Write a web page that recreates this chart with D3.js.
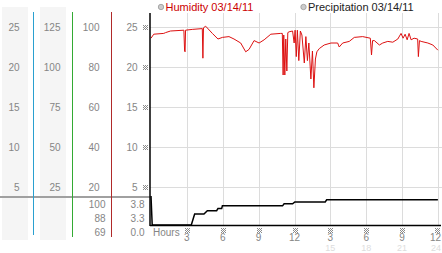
<!DOCTYPE html>
<html><head><meta charset="utf-8">
<script src="https://cdn.jsdelivr.net/npm/d3@7"></script>
<style>
html,body{margin:0;padding:0;background:#fff;}
text{font-family:"Liberation Sans",Arial,sans-serif;}
</style></head>
<body>
<svg id="c" width="442" height="253"></svg>
<script>
// ---- data ----
const yTicks = [5, 10, 15, 20, 25];
const col1Labels = ["5", "10", "15", "20", "25"];
const col2Labels = ["25", "50", "75", "100", "125"];
const col3Labels = ["20", "40", "60", "80", "100"];
const col4Labels = ["5", "10", "15", "20", "25"];
const summaryA = ["100", "88", "69"];
const summaryB = ["3.8", "3.3", "0.0"];
const hourTicks = [3, 6, 9, 12, 15, 18, 21, 24];
const hourLabels = ["3", "6", "9", "12", "3", "6", "9", "12"];
const hourLabels24 = ["", "", "", "", "15", "18", "21", "24"];
const seriesNames = ["Humidity 03/14/11", "Precipitation 03/14/11"];
const humHours = [0,0.23,1.07,1.22,1.63,2.75,2.81,2.85,2.89,3.45,4.29,4.34,4.39,4.57,5.13,5.6,5.97,6.52,6.94,7.5,7.92,8.2,8.62,9.04,9.46,10.02,10.85,10.98,11.05,11.1,11.19,11.27,11.36,11.44,11.55,11.84,11.97,12.05,12.15,12.24,12.36,12.49,12.62,12.82,12.95,13.08,13.2,13.37,13.5,13.62,13.75,13.87,14.07,14.48,15.05,15.61,15.74,16.03,16.58,17.0,17.7,18.34,18.44,18.53,18.68,19.1,19.38,19.8,20.22,20.64,20.91,21.08,21.25,21.42,21.58,21.75,22.0,22.3,22.36,22.45,22.59,23.15,23.57,23.99];
const humValues = [23.6,24.1,24.2,24.3,24.5,24.6,22.0,21.9,24.6,24.7,24.8,21.1,24.9,25.1,24.2,23.5,23.7,23.8,23.5,23.0,21.9,22.2,23.3,23.0,23.4,24.1,24.2,24.2,19.0,24.0,19.0,23.5,19.5,24.3,24.4,24.5,23.0,24.6,21.3,24.6,20.8,24.5,24.0,20.5,23.8,20.8,23.0,18.5,22.0,17.4,21.0,21.9,22.3,22.75,23.0,23.0,22.5,23.0,23.2,23.7,23.8,23.6,21.5,23.3,23.3,22.75,23.0,23.2,23.1,23.5,24.2,23.6,24.1,23.4,24.2,23.4,23.6,23.5,21.3,23.3,23.2,23.0,22.75,22.1];
const precHours = [0,0.05,0.1,3.37,3.65,4.43,4.71,5.49,5.6,5.91,5.97,11.0,11.13,11.84,12.03,14.57,14.69,23.99];
const precValues = [3.8,1.9,0,0,1.45,1.45,1.88,1.88,2.15,2.15,2.51,2.51,2.77,2.77,3.03,3.03,3.3,3.3];

// ---- drawing ----
const svg = d3.select("#c");
const x = d3.scaleLinear().domain([0, 24]).range([151, 438]);
const y = d3.scaleLinear().domain([0, 25]).range([227, 27]);
const yp = d3.scaleLinear().domain([0, 3.8]).range([225, 196]);
const rowBand = d3.scaleBand().domain(d3.range(3)).range([197, 239]);

// small checkered tick mark
const markCells = [];
for (let i = 0; i < 5; i++) for (let j = 0; j < 5; j++) if ((i + j) % 2 === 0) markCells.push([i, j]);
function mark(cx, cy) {
  const m = svg.append("g").attr("transform", `translate(${Math.round(cx) - 2},${Math.round(cy) - 2})`);
  m.selectAll("rect").data(markCells).join("rect")
    .attr("x", d => d[0]).attr("y", d => d[1]).attr("width", 1).attr("height", 1).attr("fill", "#8a8a8a");
}

// left column backgrounds
svg.append("rect").attr("x", 2).attr("y", 7).attr("width", 26).attr("height", 233).attr("fill", "#f5f5f5");
svg.append("rect").attr("x", 40).attr("y", 7).attr("width", 26).attr("height", 233).attr("fill", "#f5f5f5");

// grid
const g = svg.append("g");
g.selectAll("line.h").data(yTicks).join("line")
  .attr("x1", 150).attr("x2", 442).attr("y1", d => y(d) + 0.5).attr("y2", d => y(d) + 0.5)
  .attr("stroke", "#dcdcdc").attr("stroke-width", 1);
g.selectAll("line.v").data(hourTicks).join("line")
  .attr("x1", d => Math.round(x(d)) + 0.5).attr("x2", d => Math.round(x(d)) + 0.5)
  .attr("y1", 13).attr("y2", 225)
  .attr("stroke", "#dcdcdc").attr("stroke-width", 1);

// gray separator
svg.append("line").attr("x1", 0).attr("x2", 150).attr("y1", 197).attr("y2", 197)
  .attr("stroke", "#a0a0a0").attr("stroke-width", 2);

// coloured column lines
svg.append("line").attr("x1", 33.5).attr("x2", 33.5).attr("y1", 12).attr("y2", 235).attr("stroke", "#2aa0d0").attr("stroke-width", 1);
svg.append("line").attr("x1", 72.5).attr("x2", 72.5).attr("y1", 12).attr("y2", 237).attr("stroke", "#33aa33").attr("stroke-width", 1);
svg.append("line").attr("x1", 111.5).attr("x2", 111.5).attr("y1", 12).attr("y2", 237).attr("stroke", "#b02a2a").attr("stroke-width", 1);

// column labels
function col(labels, xr) {
  svg.append("g").selectAll("text").data(labels).join("text")
    .attr("x", xr).attr("y", (d, i) => y(yTicks[i]))
    .attr("dy", "0.35em").attr("text-anchor", "end")
    .attr("font-size", 10).attr("fill", "#858585").text(d => d);
}
col(col1Labels, 19.5);
col(col2Labels, 60.5);
col(col3Labels, 99.5);
col(col4Labels, 137.5);

// y tick marks
yTicks.forEach(t => mark(145, y(t)));

// summary rows
svg.append("g").selectAll("text").data(summaryA).join("text")
  .attr("x", 105.5).attr("y", (d, i) => rowBand(i) + rowBand.bandwidth() / 2 + 0.5)
  .attr("dy", "0.35em").attr("text-anchor", "end").attr("font-size", 10).attr("fill", "#858585").text(d => d);
svg.append("g").selectAll("text").data(summaryB).join("text")
  .attr("x", 144.5).attr("y", (d, i) => rowBand(i) + rowBand.bandwidth() / 2 + 0.5)
  .attr("dy", "0.35em").attr("text-anchor", "end").attr("font-size", 10).attr("fill", "#858585").text(d => d);

// humidity line
const hum = humHours.map((h, i) => [h, humValues[i]]);
svg.append("path").datum(hum)
  .attr("d", d3.line().x(d => x(d[0])).y(d => y(d[1])))
  .attr("fill", "none").attr("stroke", "#dd1111").attr("stroke-width", 1);

// precipitation line
const prec = precHours.map((h, i) => [h, precValues[i]]);
svg.append("path").datum(prec)
  .attr("d", d3.line().x(d => x(d[0])).y(d => yp(d[1])))
  .attr("fill", "none").attr("stroke", "#000").attr("stroke-width", 1.5);

// axes lines
svg.append("line").attr("x1", 150).attr("x2", 150).attr("y1", 13).attr("y2", 226).attr("stroke", "#000").attr("stroke-width", 1.5);
svg.append("line").attr("x1", 150).attr("x2", 441).attr("y1", 225.5).attr("y2", 225.5).attr("stroke", "#000").attr("stroke-width", 1.5);

// x labels
svg.append("text").attr("x", 153).attr("y", 232).attr("dy", "0.35em").attr("font-size", 10).attr("fill", "#858585").text("Hours");
const last = hourTicks.length - 1;
hourTicks.forEach(t => mark(t === 24 ? 437 : x(t), 230));
svg.append("g").selectAll("text").data(hourLabels).join("text")
  .attr("x", (d, i) => i === last ? 441 : x(hourTicks[i])).attr("y", 237.5).attr("dy", "0.35em")
  .attr("text-anchor", (d, i) => i === last ? "end" : "middle")
  .attr("font-size", 10).attr("fill", "#858585").text(d => d);
svg.append("g").selectAll("text").data(hourLabels24).join("text")
  .attr("x", (d, i) => i === last ? 441 : x(hourTicks[i])).attr("y", 247.5).attr("dy", "0.35em")
  .attr("text-anchor", (d, i) => i === last ? "end" : "middle")
  .attr("font-size", 9).attr("fill", "#dddddd").text(d => d);

// legend
const legX = [161, 303.5];
const legColor = ["#cc0000", "#222"];
seriesNames.forEach((n, i) => {
  svg.append("circle").attr("cx", legX[i]).attr("cy", 7).attr("r", 2.7)
    .attr("fill", "#ccc").attr("stroke", "#999").attr("stroke-width", 0.8);
  svg.append("text").attr("x", legX[i] + 4.5).attr("y", 7).attr("dy", "0.35em")
    .attr("font-size", 11).attr("fill", legColor[i]).text(n);
});
</script>
</body></html>
